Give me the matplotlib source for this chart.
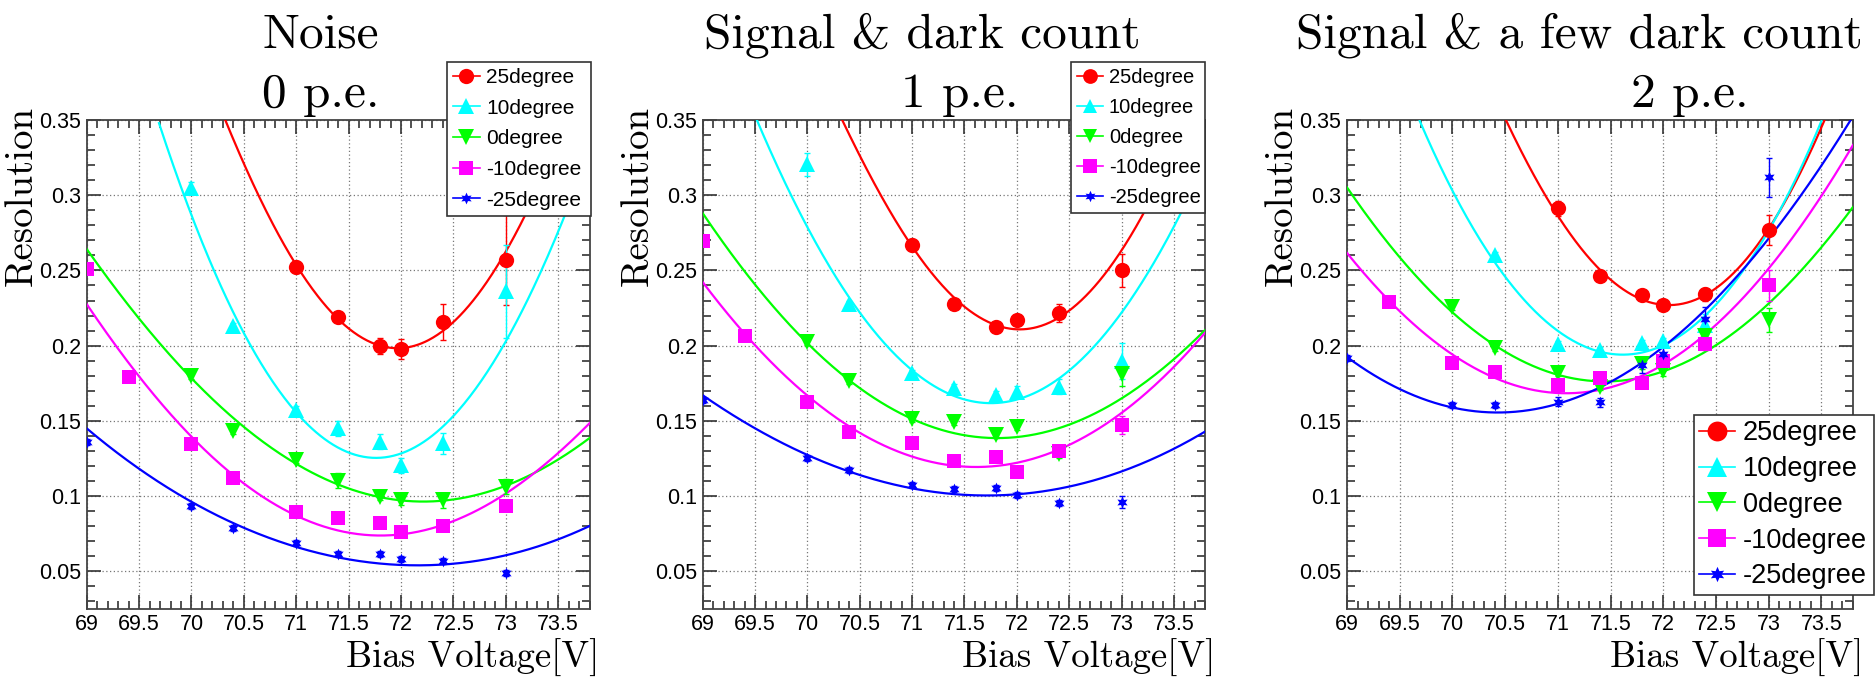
import numpy as np
import matplotlib
matplotlib.use("Agg")
import matplotlib.pyplot as plt
from matplotlib.lines import Line2D
from matplotlib.ticker import MultipleLocator, FixedLocator, FuncFormatter

# ---------------- data ----------------
labels = ["25degree", "10degree", "0degree", "-10degree", "-25degree"]
colors = ["#ff0000", "#00ffff", "#00ff00", "#ff00ff", "#0000ff"]
markers = ["o", "^", "v", "s", (6, 1, 0)]
msizes = [11, 11, 11, 10.5, 8.5]

titles = [("Noise", "0 p.e."), ("Signal & dark count", "1 p.e."),
          ("Signal & a few dark count", "2 p.e.")]

# Panel 1 : 0 p.e.  (x, y, err)
p1_x = [
    [71.0, 71.4, 71.8, 72.0, 72.4, 73.0],
    [70.0, 70.4, 71.0, 71.4, 71.8, 72.0, 72.4, 73.0],
    [70.0, 70.4, 71.0, 71.4, 71.8, 72.0, 72.4, 73.0],
    [69.0, 69.4, 70.0, 70.4, 71.0, 71.4, 71.8, 72.0, 72.4, 73.0],
    [69.0, 70.0, 70.4, 71.0, 71.4, 71.8, 72.0, 72.4, 73.0],
]
p1_y = [
    [0.252, 0.219, 0.200, 0.1975, 0.216, 0.257],
    [0.305, 0.213, 0.157, 0.145, 0.136, 0.1205, 0.135, 0.236],
    [0.180, 0.143, 0.124, 0.110, 0.0995, 0.0972, 0.0972, 0.106],
    [0.251, 0.179, 0.1345, 0.112, 0.0895, 0.085, 0.0817, 0.076, 0.080, 0.093],
    [0.136, 0.0935, 0.079, 0.0689, 0.0613, 0.0611, 0.058, 0.0569, 0.049],
]
p1_e = [
    [0.004, 0.003, 0.0053, 0.0067, 0.012, 0.030],
    [0.004, 0.002, 0.003, 0.005, 0.005, 0.005, 0.007, 0.031],
    [0.002, 0.002, 0.002, 0.005, 0.002, 0.003, 0.005, 0.005],
    [0.002, 0.002, 0.002, 0.002, 0.002, 0.002, 0.002, 0.002, 0.002, 0.002],
    [0.002, 0.002, 0.002, 0.002, 0.002, 0.002, 0.002, 0.002, 0.002],
]
# Panel 1 fitted curves
p1_cx = [
    [70.31, 70.5, 70.75, 71.0, 71.25, 71.5, 71.75, 72.0, 72.25, 72.5, 72.75, 73.0, 73.25, 73.5],
    [69.69, 69.9, 70.0, 70.25, 70.5, 70.75, 71.0, 71.25, 71.5, 71.75, 72.0, 72.25, 72.5, 72.75, 73.0, 73.25, 73.55, 73.8],
    [69.0, 69.5, 70.0, 70.5, 71.0, 71.5, 72.0, 72.5, 73.0, 73.5, 73.8],
    [69.0, 69.5, 70.0, 70.5, 71.0, 71.5, 72.0, 72.5, 73.0, 73.5, 73.8],
    [69.0, 69.5, 70.0, 70.5, 71.0, 71.5, 72.0, 72.5, 73.0, 73.5, 73.8],
]
p1_cy = [
    [0.35, 0.325, 0.284, 0.252, 0.229, 0.211, 0.201, 0.199, 0.204, 0.216, 0.235, 0.262, 0.296, 0.336],
    [0.35, 0.30, 0.289, 0.246, 0.208, 0.178, 0.158, 0.138, 0.128, 0.125, 0.127, 0.138, 0.155, 0.176, 0.201, 0.236, 0.285, 0.33],
    [0.264, 0.219, 0.177, 0.146, 0.1215, 0.106, 0.097, 0.096, 0.1075, 0.125, 0.138],
    [0.226, 0.184, 0.137, 0.106, 0.0875, 0.077, 0.075, 0.083, 0.101, 0.128, 0.149],
    [0.145, 0.118, 0.096, 0.079, 0.066, 0.058, 0.054, 0.0545, 0.061, 0.071, 0.080],
]

# Panel 2 : 1 p.e.
p2_x = [
    [71.0, 71.4, 71.8, 72.0, 72.4, 73.0],
    [70.0, 70.4, 71.0, 71.4, 71.8, 72.0, 72.4, 73.0],
    [70.0, 70.4, 71.0, 71.4, 71.8, 72.0, 72.4, 73.0],
    [69.0, 69.4, 70.0, 70.4, 71.0, 71.4, 71.8, 72.0, 72.4, 73.0],
    [69.0, 70.0, 70.4, 71.0, 71.4, 71.8, 72.0, 72.4, 73.0],
]
p2_y = [
    [0.2669, 0.228, 0.2125, 0.217, 0.2218, 0.250],
    [0.3205, 0.228, 0.1815, 0.1715, 0.167, 0.1693, 0.1726, 0.190],
    [0.2025, 0.1766, 0.151, 0.149, 0.1405, 0.146, 0.128, 0.181],
    [0.2697, 0.2065, 0.1622, 0.1427, 0.135, 0.1234, 0.126, 0.1156, 0.1298, 0.147],
    [0.1637, 0.125, 0.1172, 0.1072, 0.1045, 0.105, 0.1006, 0.095, 0.096],
]
p2_e = [
    [0.004, 0.003, 0.003, 0.003, 0.0058, 0.011],
    [0.0075, 0.002, 0.002, 0.003, 0.003, 0.004, 0.005, 0.012],
    [0.002, 0.002, 0.002, 0.002, 0.002, 0.002, 0.003, 0.008],
    [0.002, 0.002, 0.002, 0.002, 0.002, 0.002, 0.002, 0.002, 0.002, 0.006],
    [0.002, 0.002, 0.002, 0.002, 0.002, 0.002, 0.002, 0.002, 0.004],
]
p2_cx = [
    [70.32, 70.5, 70.75, 71.0, 71.25, 71.5, 71.75, 72.0, 72.25, 72.5, 72.75, 73.0, 73.25, 73.5],
    [69.5, 69.75, 70.0, 70.25, 70.5, 70.75, 71.0, 71.25, 71.5, 71.75, 72.0, 72.25, 72.5, 72.75, 73.0, 73.25, 73.5, 73.8],
    [69.0, 69.5, 70.0, 70.5, 71.0, 71.5, 72.0, 72.5, 73.0, 73.5, 73.8],
    [69.0, 69.5, 70.0, 70.5, 71.0, 71.5, 72.0, 72.5, 73.0, 73.5, 73.8],
    [69.0, 69.5, 70.0, 70.5, 71.0, 71.5, 72.0, 72.5, 73.0, 73.5, 73.8],
]
p2_cy = [
    [0.35, 0.329, 0.294, 0.266, 0.243, 0.224, 0.214, 0.2115, 0.215, 0.2245, 0.240, 0.262, 0.292, 0.33],
    [0.35, 0.318, 0.281, 0.246, 0.219, 0.200, 0.185, 0.172, 0.164, 0.161, 0.165, 0.172, 0.1835, 0.200, 0.222, 0.248, 0.278, 0.323],
    [0.288, 0.241, 0.2005, 0.173, 0.151, 0.140, 0.1385, 0.1485, 0.165, 0.19, 0.211],
    [0.242, 0.201, 0.166, 0.142, 0.126, 0.1202, 0.1225, 0.132, 0.157, 0.185, 0.209],
    [0.167, 0.145, 0.127, 0.114, 0.1055, 0.1005, 0.101, 0.1058, 0.117, 0.131, 0.143],
]

# Panel 3 : 2 p.e.
p3_x = [
    [71.0, 71.4, 71.8, 72.0, 72.4, 73.0],
    [70.4, 71.0, 71.4, 71.8, 72.0, 72.4],
    [70.0, 70.4, 71.0, 71.4, 71.8, 72.0, 72.4, 73.0],
    [69.4, 70.0, 70.4, 71.0, 71.4, 71.8, 72.0, 72.4, 73.0],
    [69.0, 70.0, 70.4, 71.0, 71.4, 71.8, 72.0, 72.4, 73.0],
]
p3_y = [
    [0.2912, 0.2462, 0.2336, 0.227, 0.234, 0.277],
    [0.2602, 0.2008, 0.197, 0.2019, 0.203, 0.214],
    [0.2258, 0.1981, 0.1819, 0.1726, 0.1875, 0.183, 0.2065, 0.217],
    [0.2287, 0.1881, 0.1826, 0.1737, 0.1782, 0.1748, 0.1897, 0.2008, 0.240],
    [0.1915, 0.1604, 0.1604, 0.1626, 0.1622, 0.187, 0.1941, 0.2176, 0.312],
]
p3_e = [
    [0.005, 0.003, 0.003, 0.003, 0.004, 0.010],
    [0.002, 0.002, 0.002, 0.002, 0.002, 0.007],
    [0.002, 0.002, 0.002, 0.002, 0.003, 0.003, 0.004, 0.008],
    [0.002, 0.002, 0.002, 0.002, 0.002, 0.002, 0.006, 0.004, 0.010],
    [0.002, 0.002, 0.002, 0.003, 0.003, 0.005, 0.006, 0.008, 0.013],
]
p3_cx = [
    [70.51, 70.75, 71.0, 71.25, 71.5, 71.75, 72.0, 72.25, 72.5, 72.75, 73.0, 73.25, 73.53],
    [69.69, 70.0, 70.25, 70.5, 70.75, 71.0, 71.25, 71.5, 71.75, 72.0, 72.25, 72.5, 72.75, 73.0, 73.25, 73.5],
    [69.0, 69.5, 70.0, 70.5, 71.0, 71.5, 72.0, 72.5, 73.0, 73.5, 73.8],
    [69.0, 69.5, 70.0, 70.5, 71.0, 71.5, 72.0, 72.5, 73.0, 73.5, 73.8],
    [69.0, 69.5, 70.0, 70.5, 71.0, 71.5, 72.0, 72.5, 73.0, 73.5, 73.78],
]
p3_cy = [
    [0.35, 0.315, 0.288, 0.262, 0.243, 0.232, 0.2275, 0.2295, 0.238, 0.254, 0.278, 0.308, 0.35],
    [0.35, 0.302, 0.271, 0.247, 0.226, 0.211, 0.1995, 0.193, 0.192, 0.200, 0.213, 0.231, 0.248, 0.274, 0.31, 0.35],
    [0.305, 0.259, 0.2225, 0.196, 0.180, 0.1755, 0.183, 0.2015, 0.229, 0.262, 0.294],
    [0.262, 0.222, 0.194, 0.177, 0.168, 0.172, 0.188, 0.2125, 0.252, 0.30, 0.333],
    [0.1925, 0.171, 0.1587, 0.1553, 0.162, 0.176, 0.199, 0.23, 0.272, 0.32, 0.35],
]

xticks = [69, 69.5, 70, 70.5, 71, 71.5, 72, 72.5, 73, 73.5]
yticks = [0.05, 0.1, 0.15, 0.2, 0.25, 0.3, 0.35]

panels = [
    (p1_x, p1_y, p1_e, p1_cx, p1_cy),
    (p2_x, p2_y, p2_e, p2_cx, p2_cy),
    (p3_x, p3_y, p3_e, p3_cx, p3_cy),
]

# ---------------- layout ----------------
W, H = 1876, 677
fig = plt.figure(figsize=(W / 100, H / 100), dpi=100)

SERIF = "cmr10"
SANS = ["Liberation Sans", "DejaVu Sans"]

ax_px = [(86.7, 589.6), (702.7, 1205.3), (1347.0, 1853.0)]
ax_top, ax_bot = 120.1, 608.7
title_cx = [321, 922, 1579]
title2_cx = [321, 960, 1690]
# x0, y0, x1, y1 (pixels), font size, label spacing, border pad
leg_px = [(446.7, 61.7, 590.7, 218.3, 15.0, 0.56, 0.3),
          (1070.5, 62.0, 1205.3, 214.0, 14.5, 0.55, 0.3),
          (1694.0, 415.0, 1874.0, 586.0, 19.5, 0.36, 0.2)]


def fmt(v, pos):
    s = ("%.2f" % v).rstrip("0").rstrip(".")
    return s


for i, (px, py, pe, cx, cy) in enumerate(panels):
    l, r = ax_px[i]
    ax = fig.add_axes([l / W, 1 - ax_bot / H, (r - l) / W, (ax_bot - ax_top) / H])
    ax.set_xlim(69, 73.8)
    ax.set_ylim(0.025, 0.35)
    ax.xaxis.set_major_locator(FixedLocator(xticks))
    ax.xaxis.set_minor_locator(MultipleLocator(0.1))
    ax.yaxis.set_major_locator(FixedLocator(yticks))
    ax.yaxis.set_minor_locator(MultipleLocator(0.01))
    ax.xaxis.set_major_formatter(FuncFormatter(fmt))
    ax.yaxis.set_major_formatter(FuncFormatter(fmt))
    ax.tick_params(which="both", direction="in", top=True, right=True,
                   colors="#333333", labelcolor="black", width=1.2)
    ax.tick_params(which="major", length=10, labelsize=15.5, pad=4)
    ax.tick_params(which="minor", length=5.5)
    for lab in ax.get_xticklabels() + ax.get_yticklabels():
        lab.set_family(SANS)
    for sp in ax.spines.values():
        sp.set_color("#444444")
        sp.set_linewidth(1.3)
    ax.grid(True, which="major", color="#777777", linestyle=(0, (1, 2)), linewidth=0.9)
    ax.set_axisbelow(True)

    for k in range(5):
        xs = np.array(cx[k])
        ys = np.array(cy[k])
        coef = np.polyfit(xs, ys, 4)
        xx = np.linspace(xs[0], xs[-1], 300)
        ax.plot(xx, np.polyval(coef, xx), color=colors[k], lw=1.6, zorder=3)
    for k in range(5):
        ax.errorbar(px[k], py[k], yerr=pe[k], fmt="none", ecolor=colors[k],
                    elinewidth=1.0, capsize=2.5, capthick=1.0, zorder=4)
        ax.plot(px[k], py[k], linestyle="none", marker=markers[k],
                markersize=msizes[k], color=colors[k], markeredgewidth=0, zorder=5)

    # axis labels
    fig.text((r + 10) / W, 1 - 668 / H, "Bias Voltage[V]", family=SERIF,
             fontsize=26.5, ha="right", va="baseline")
    fig.text((l - 65) / W, 1 - 106 / H, "Resolution", family=SERIF,
             fontsize=28, rotation=90, ha="center", va="top")

    # titles
    t1, t2 = titles[i]
    fig.text(title_cx[i] / W, 1 - 47.7 / H, t1, family=SERIF, fontsize=35.5,
             ha="center", va="baseline")
    fig.text(title2_cx[i] / W, 1 - 107 / H, t2, family=SERIF, fontsize=35.5,
             ha="center", va="baseline")

    # legend
    lx0, ly0, lx1, ly1, fs, lsp, bp = leg_px[i]
    handles = [Line2D([0], [0], color=colors[k], marker=markers[k],
                      markersize=msizes[k] * (fs / 15.0), markeredgewidth=0, lw=1.2)
               for k in range(5)]
    leg = fig.legend(handles, labels, loc="upper left",
                     bbox_to_anchor=(lx0 / W, 1 - ly1 / H, (lx1 - lx0) / W, (ly1 - ly0) / H),
                     bbox_transform=fig.transFigure, mode="expand",
                     prop={"family": SANS, "size": fs}, frameon=True, fancybox=False,
                     framealpha=1, edgecolor="#333333", borderpad=bp,
                     labelspacing=lsp, handlelength=1.3, handletextpad=0.3,
                     borderaxespad=0)
    leg.get_frame().set_linewidth(1.2)
    leg.set_zorder(10)

fig.savefig("out.png", dpi=100)
